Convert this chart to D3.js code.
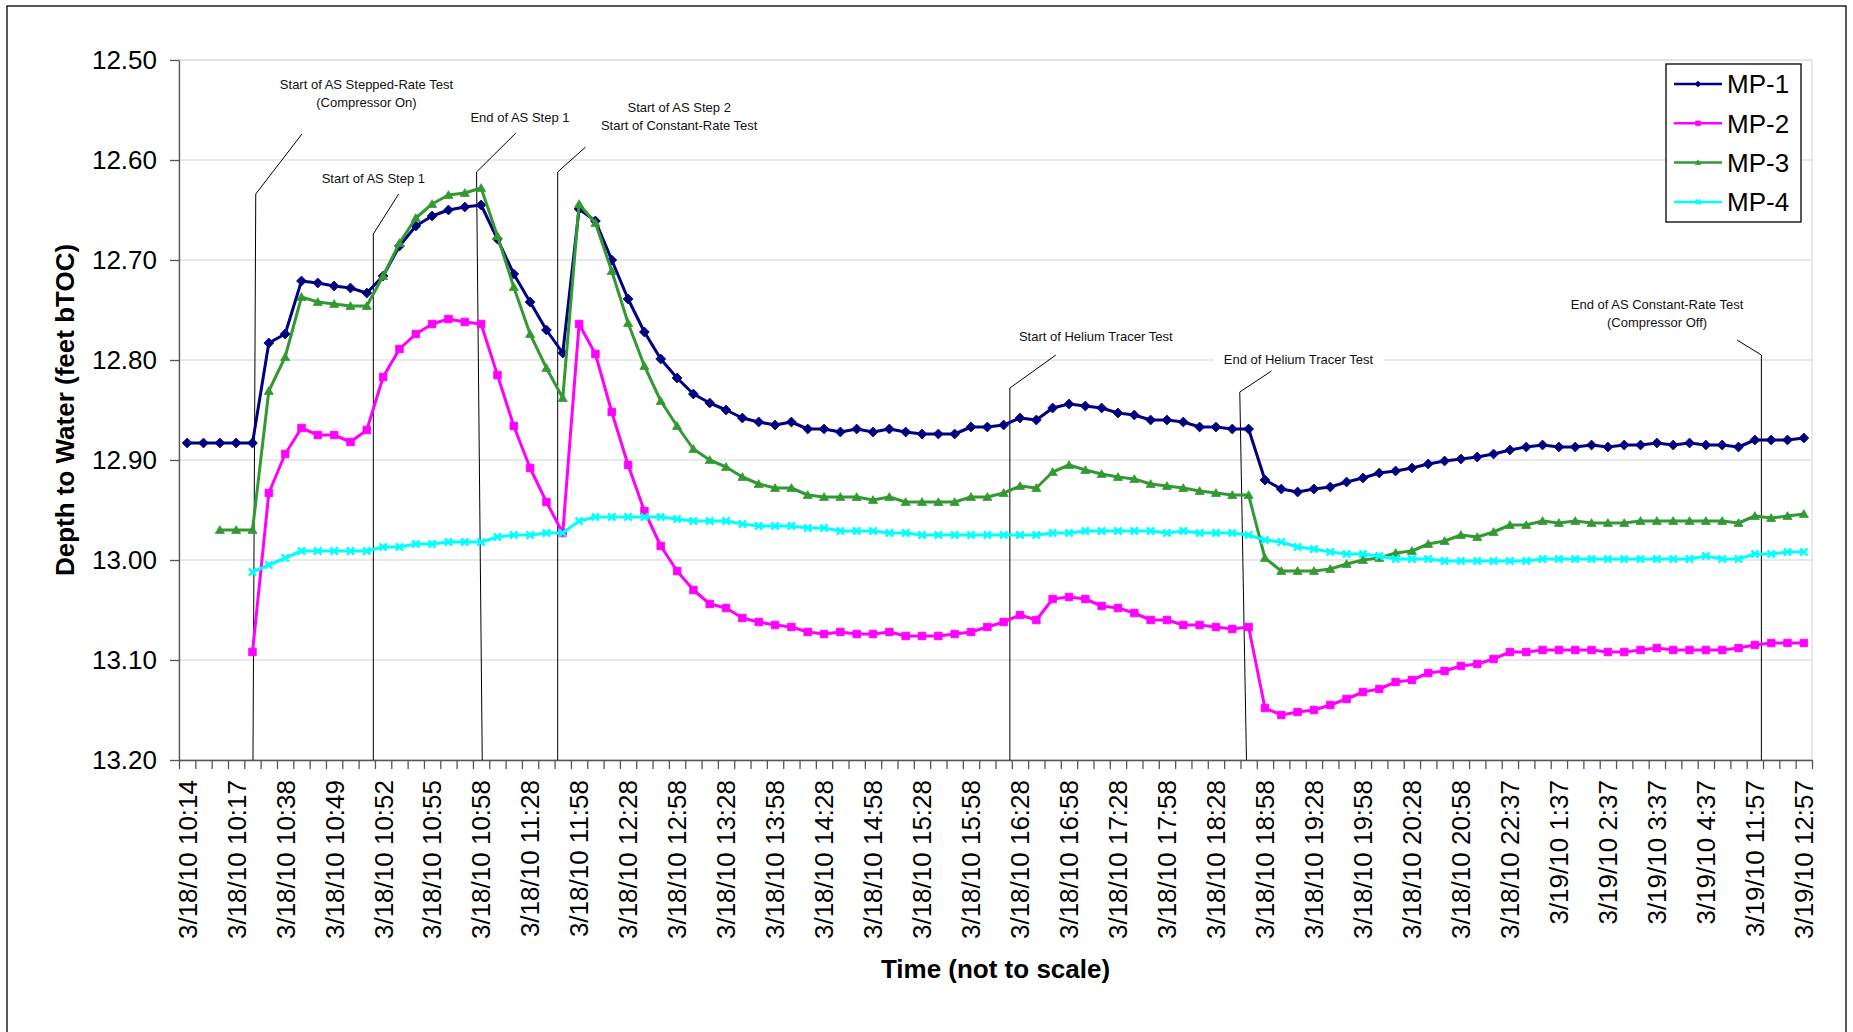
<!DOCTYPE html>
<html>
<head>
<meta charset="utf-8">
<script src="https://cdn.jsdelivr.net/npm/d3@7"></script>
<style>
  body { margin: 0; background: #fff; }
  svg { display: block; font-family: "Liberation Sans", Arial, sans-serif; }
</style>
</head>
<body>
<div id="chart"></div>
<script>
const categories = [
  "3/18/10 10:14", "3/18/10 10:15", "3/18/10 10:16", "3/18/10 10:17", "3/18/10 10:24",
  "3/18/10 10:31", "3/18/10 10:38", "3/18/10 10:42", "3/18/10 10:46", "3/18/10 10:49",
  "3/18/10 10:50", "3/18/10 10:51", "3/18/10 10:52", "3/18/10 10:53", "3/18/10 10:54",
  "3/18/10 10:55", "3/18/10 10:56", "3/18/10 10:57", "3/18/10 10:58", "3/18/10 11:08",
  "3/18/10 11:18", "3/18/10 11:28", "3/18/10 11:38", "3/18/10 11:48", "3/18/10 11:58",
  "3/18/10 12:08", "3/18/10 12:18", "3/18/10 12:28", "3/18/10 12:38", "3/18/10 12:48",
  "3/18/10 12:58", "3/18/10 13:08", "3/18/10 13:18", "3/18/10 13:28", "3/18/10 13:38",
  "3/18/10 13:48", "3/18/10 13:58", "3/18/10 14:08", "3/18/10 14:18", "3/18/10 14:28",
  "3/18/10 14:38", "3/18/10 14:48", "3/18/10 14:58", "3/18/10 15:08", "3/18/10 15:18",
  "3/18/10 15:28", "3/18/10 15:38", "3/18/10 15:48", "3/18/10 15:58", "3/18/10 16:08",
  "3/18/10 16:18", "3/18/10 16:28", "3/18/10 16:38", "3/18/10 16:48", "3/18/10 16:58",
  "3/18/10 17:08", "3/18/10 17:18", "3/18/10 17:28", "3/18/10 17:38", "3/18/10 17:48",
  "3/18/10 17:58", "3/18/10 18:08", "3/18/10 18:18", "3/18/10 18:28", "3/18/10 18:38",
  "3/18/10 18:48", "3/18/10 18:58", "3/18/10 19:08", "3/18/10 19:18", "3/18/10 19:28",
  "3/18/10 19:38", "3/18/10 19:48", "3/18/10 19:58", "3/18/10 20:08", "3/18/10 20:18",
  "3/18/10 20:28", "3/18/10 20:38", "3/18/10 20:48", "3/18/10 20:58", "3/18/10 21:31",
  "3/18/10 22:04", "3/18/10 22:37", "3/18/10 23:37", "3/19/10 0:37", "3/19/10 1:37",
  "3/19/10 1:57", "3/19/10 2:17", "3/19/10 2:37", "3/19/10 2:57", "3/19/10 3:17",
  "3/19/10 3:37", "3/19/10 3:57", "3/19/10 4:17", "3/19/10 4:37", "3/19/10 7:37",
  "3/19/10 9:47", "3/19/10 11:57", "3/19/10 12:17", "3/19/10 12:37", "3/19/10 12:57",
];

const mp1 = [
  12.883, 12.883, 12.883, 12.883, 12.883, 12.783, 12.774, 12.721, 12.723, 12.726,
  12.728, 12.733, 12.716, 12.686, 12.666, 12.656, 12.650, 12.647, 12.645, 12.679,
  12.714, 12.742, 12.770, 12.793, 12.649, 12.661, 12.700, 12.739, 12.772, 12.799,
  12.818, 12.834, 12.843, 12.850, 12.858, 12.862, 12.865, 12.862, 12.869, 12.869,
  12.872, 12.869, 12.872, 12.869, 12.872, 12.874, 12.874, 12.874, 12.867, 12.867,
  12.865, 12.858, 12.860, 12.848, 12.844, 12.846, 12.848, 12.853, 12.855, 12.860,
  12.860, 12.862, 12.867, 12.867, 12.869, 12.869, 12.920, 12.929, 12.932, 12.929,
  12.927, 12.922, 12.918, 12.913, 12.911, 12.908, 12.904, 12.901, 12.899, 12.897,
  12.894, 12.890, 12.887, 12.885, 12.887, 12.887, 12.885, 12.887, 12.885, 12.885,
  12.883, 12.885, 12.883, 12.885, 12.885, 12.887, 12.880, 12.880, 12.880, 12.878,
];

const mp2 = [
  null, null, null, null, 13.092, 12.933, 12.894, 12.868, 12.875, 12.875,
  12.882, 12.870, 12.817, 12.789, 12.774, 12.764, 12.759, 12.762, 12.764, 12.815,
  12.866, 12.908, 12.942, 12.973, 12.764, 12.794, 12.852, 12.905, 12.951, 12.986,
  13.011, 13.030, 13.044, 13.048, 13.058, 13.062, 13.065, 13.067, 13.072, 13.074,
  13.072, 13.074, 13.074, 13.072, 13.076, 13.076, 13.076, 13.074, 13.072, 13.067,
  13.062, 13.055, 13.060, 13.039, 13.037, 13.039, 13.046, 13.048, 13.053, 13.060,
  13.060, 13.065, 13.065, 13.067, 13.069, 13.067, 13.148, 13.155, 13.152, 13.150,
  13.145, 13.139, 13.132, 13.129, 13.122, 13.120, 13.113, 13.111, 13.106, 13.104,
  13.099, 13.092, 13.092, 13.090, 13.090, 13.090, 13.090, 13.092, 13.092, 13.090,
  13.088, 13.090, 13.090, 13.090, 13.090, 13.088, 13.085, 13.083, 13.083, 13.083,
];

const mp3 = [
  null, null, 12.970, 12.970, 12.970, 12.831, 12.797, 12.737, 12.742, 12.744,
  12.746, 12.746, 12.716, 12.683, 12.658, 12.644, 12.635, 12.633, 12.628, 12.676,
  12.727, 12.774, 12.808, 12.838, 12.644, 12.663, 12.711, 12.763, 12.806, 12.841,
  12.866, 12.889, 12.900, 12.907, 12.917, 12.924, 12.928, 12.928, 12.935, 12.937,
  12.937, 12.937, 12.940, 12.937, 12.942, 12.942, 12.942, 12.942, 12.937, 12.937,
  12.933, 12.926, 12.928, 12.912, 12.905, 12.910, 12.914, 12.917, 12.919, 12.924,
  12.926, 12.928, 12.931, 12.933, 12.935, 12.935, 12.998, 13.011, 13.011, 13.011,
  13.009, 13.004, 13.000, 12.998, 12.993, 12.991, 12.984, 12.981, 12.975, 12.977,
  12.972, 12.965, 12.965, 12.961, 12.963, 12.961, 12.963, 12.963, 12.963, 12.961,
  12.961, 12.961, 12.961, 12.961, 12.961, 12.963, 12.956, 12.958, 12.956, 12.954,
];

const mp4 = [
  null, null, null, null, 13.012, 13.005, 12.998, 12.991, 12.991, 12.991,
  12.991, 12.991, 12.987, 12.987, 12.984, 12.984, 12.982, 12.982, 12.982, 12.977,
  12.975, 12.975, 12.973, 12.973, 12.961, 12.957, 12.957, 12.957, 12.957, 12.957,
  12.959, 12.961, 12.961, 12.961, 12.964, 12.966, 12.966, 12.966, 12.968, 12.968,
  12.971, 12.971, 12.971, 12.973, 12.973, 12.975, 12.975, 12.975, 12.975, 12.975,
  12.975, 12.975, 12.975, 12.973, 12.973, 12.971, 12.971, 12.971, 12.971, 12.971,
  12.973, 12.971, 12.973, 12.973, 12.973, 12.975, 12.980, 12.982, 12.987, 12.989,
  12.992, 12.994, 12.994, 12.996, 12.999, 12.999, 12.999, 13.001, 13.001, 13.001,
  13.001, 13.001, 13.001, 12.999, 12.999, 12.999, 12.999, 12.999, 12.999, 12.999,
  12.999, 12.999, 12.999, 12.996, 12.999, 12.999, 12.994, 12.994, 12.992, 12.992,
];

const seriesNames = ["MP-1", "MP-2", "MP-3", "MP-4"];
const yTicks = [12.5, 12.6, 12.7, 12.8, 12.9, 13.0, 13.1, 13.2];

// event markers, placed in category index / depth units
const annotations = [
  { lines: ["Start of AS Stepped-Rate Test", "(Compressor On)"], base: 4.53, top: 4.70, elbow: 12.634, leadAt: 7.53, leadDepth: 12.574, labelAt: 11.48, labelDepth: 12.524 },
  { lines: ["Start of AS Step 1"], base: 11.9, top: 11.9, elbow: 12.674, leadAt: 13.45, leadDepth: 12.634, labelAt: 11.9, labelDepth: 12.618 },
  { lines: ["End of AS Step 1"], base: 18.57, top: 18.22, elbow: 12.612, leadAt: 20.63, leadDepth: 12.573, labelAt: 20.88, labelDepth: 12.557 },
  { lines: ["Start of AS Step 2", "Start of Constant-Rate Test"], base: 23.19, top: 23.19, elbow: 12.612, leadAt: 24.9, leadDepth: 12.587, labelAt: 30.63, labelDepth: 12.547 },
  { lines: ["Start of Helium Tracer Test"], base: 50.88, top: 50.88, elbow: 12.828, leadAt: 53.7, leadDepth: 12.795, labelAt: 56.14, labelDepth: 12.776 },
  { lines: ["End of Helium Tracer Test"], base: 65.37, top: 64.96, elbow: 12.832, leadAt: 66.9, leadDepth: 12.811, labelAt: 68.55, labelDepth: 12.799, boxed: true },
  { lines: ["End of AS Constant-Rate Test", "(Compressor Off)"], base: 96.9, top: 96.9, elbow: 12.795, leadAt: 95.41, leadDepth: 12.780, labelAt: 90.51, labelDepth: 12.744 },
];

const series = [mp1, mp2, mp3, mp4].map((values, i) => ({ name: seriesNames[i], values }));

const width = 1853;
const height = 1032;
const margin = { top: 60, right: 41, bottom: 272, left: 179 };
const w = width - margin.left - margin.right;
const h = height - margin.top - margin.bottom;

const color = d3.scaleOrdinal()
  .domain(seriesNames)
  .range(["#000080", "#ff00ff", "#339933", "#00ffff"]);

const markers = {
  "MP-1": r => `M0,${-r * 1.3}L${r * 1.3},0L0,${r * 1.3}L${-r * 1.3},0Z`,
  "MP-2": r => `M${-r},${-r}h${2 * r}v${2 * r}h${-2 * r}Z`,
  "MP-3": r => `M0,${-r * 1.15}L${r * 1.2},${r * 0.9}L${-r * 1.2},${r * 0.9}Z`,
  "MP-4": r => `M${-r},${-r}L${r},${r}M${r},${-r}L${-r},${r}`,
};

const svg = d3.select("#chart")
  .append("svg")
  .attr("width", width)
  .attr("height", height);

svg.append("rect")
  .attr("x", 7)
  .attr("y", 6)
  .attr("width", 1839)
  .attr("height", 1100)
  .attr("fill", "#fff")
  .attr("stroke", "#000")
  .attr("stroke-width", 1.3);

const chart = svg.append("g")
  .attr("transform", `translate(${margin.left}, ${margin.top})`);

const x = d3.scaleBand()
  .domain(categories)
  .range([0, w])
  .padding(0);

const xIdx = d3.scaleLinear()
  .domain([0, categories.length])
  .range([0, w]);

const y = d3.scaleLinear()
  .domain([12.5, 13.2])
  .range([0, h]);

chart.append("rect")
  .attr("width", w)
  .attr("height", h)
  .attr("fill", "none")
  .attr("stroke", "#e2e2e2")
  .attr("stroke-width", 1.5);

chart.selectAll(".grid")
  .data(yTicks)
  .enter()
  .append("line")
  .attr("class", "grid")
  .attr("x1", 0)
  .attr("x2", w)
  .attr("y1", d => y(d))
  .attr("y2", d => y(d))
  .attr("stroke", "#e2e2e2")
  .attr("stroke-width", 1.5);

const yAxis = chart.append("g")
  .call(d3.axisLeft(y)
    .tickValues(yTicks)
    .tickFormat(d3.format(".2f"))
    .tickSize(9)
    .tickSizeOuter(0)
    .tickPadding(13));
yAxis.selectAll("text")
  .style("font-size", "26px")
  .attr("fill", "#000");

const xTicks = chart.append("g")
  .attr("transform", `translate(0, ${h})`)
  .call(d3.axisBottom(xIdx)
    .tickValues(d3.range(0, categories.length + 1))
    .tickFormat("")
    .tickSize(9)
    .tickSizeOuter(0));

const xLabels = chart.append("g")
  .attr("transform", `translate(0, ${h})`)
  .call(d3.axisBottom(x)
    .tickValues(categories.filter((c, i) => i % 3 === 0))
    .tickSize(0)
    .tickSizeOuter(0));
xLabels.select(".domain").remove();
xLabels.selectAll("text")
  .style("font-size", "26px")
  .attr("fill", "#000")
  .attr("text-anchor", "end")
  .attr("transform", "translate(0, 20) rotate(-90)")
  .attr("x", 0)
  .attr("y", 0)
  .attr("dy", "0.36em");

[yAxis, xTicks].forEach(axis => {
  axis.selectAll(".domain, line")
    .attr("stroke", "#555")
    .attr("stroke-width", 1.3);
});

annotations.forEach(note => {
  const g = chart.append("g");
  g.append("path")
    .attr("d", `M${xIdx(note.base)},${h}L${xIdx(note.top)},${y(note.elbow)}L${xIdx(note.leadAt)},${y(note.leadDepth)}`)
    .attr("fill", "none")
    .attr("stroke", "#000")
    .attr("stroke-width", 1);
  const label = g.append("text")
    .attr("text-anchor", "middle")
    .style("font-size", "13px")
    .attr("fill", "#111");
  note.lines.forEach((line, k) => {
    label.append("tspan")
      .attr("x", xIdx(note.labelAt))
      .attr("y", y(note.labelDepth) + k * 18)
      .attr("dy", "0.35em")
      .text(line);
  });
  if (note.boxed) {
    const box = label.node().getBBox();
    g.insert("rect", "text")
      .attr("x", box.x - 10)
      .attr("y", box.y - 3)
      .attr("width", box.width + 20)
      .attr("height", box.height + 6)
      .attr("fill", "#fff");
  }
});

const line = d3.line()
  .defined(v => v !== null)
  .x((v, i) => x(categories[i]) + x.bandwidth() / 2)
  .y(v => y(v));

series.forEach(s => {
  chart.append("path")
    .attr("d", line(s.values))
    .attr("fill", "none")
    .attr("stroke", color(s.name))
    .attr("stroke-width", 3)
    .attr("stroke-linejoin", "round");

  const isCross = s.name === "MP-4";
  chart.selectAll(`.pt-${s.name}`)
    .data(s.values.map((v, i) => ({ v, i })).filter(d => d.v !== null))
    .enter()
    .append("path")
    .attr("class", `pt-${s.name}`)
    .attr("transform", d => `translate(${x(categories[d.i]) + x.bandwidth() / 2}, ${y(d.v)})`)
    .attr("d", markers[s.name](isCross ? 3.6 : 3.8))
    .attr("fill", isCross ? "none" : color(s.name))
    .attr("stroke", color(s.name))
    .attr("stroke-width", isCross ? 2.4 : 0.8);
});

const legend = svg.append("g")
  .attr("transform", "translate(1666, 64)");

legend.append("rect")
  .attr("width", 135)
  .attr("height", 158)
  .attr("fill", "#fff")
  .attr("stroke", "#000")
  .attr("stroke-width", 1.3);

const item = legend.selectAll(".item")
  .data(seriesNames)
  .enter()
  .append("g")
  .attr("class", "item")
  .attr("transform", (d, i) => `translate(0, ${20 + i * 39.3})`);

item.append("line")
  .attr("x1", 8)
  .attr("x2", 56)
  .attr("stroke", d => color(d))
  .attr("stroke-width", 2.5);

item.append("path")
  .attr("transform", "translate(32, 0)")
  .attr("d", d => markers[d](2.4))
  .attr("fill", d => d === "MP-4" ? "none" : color(d))
  .attr("stroke", d => color(d))
  .attr("stroke-width", d => d === "MP-4" ? 1.8 : 0.6);

item.append("text")
  .attr("x", 61)
  .attr("dy", "0.36em")
  .style("font-size", "26px")
  .attr("fill", "#000")
  .text(d => d);

svg.append("text")
  .attr("x", margin.left + w / 2)
  .attr("y", 969)
  .attr("dy", "0.35em")
  .attr("text-anchor", "middle")
  .style("font-size", "26px")
  .style("font-weight", "bold")
  .text("Time (not to scale)");

svg.append("text")
  .attr("transform", `translate(65, ${margin.top + h / 2}) rotate(-90)`)
  .attr("dy", "0.35em")
  .attr("text-anchor", "middle")
  .style("font-size", "26px")
  .style("font-weight", "bold")
  .text("Depth to Water (feet bTOC)");
</script>
</body>
</html>
